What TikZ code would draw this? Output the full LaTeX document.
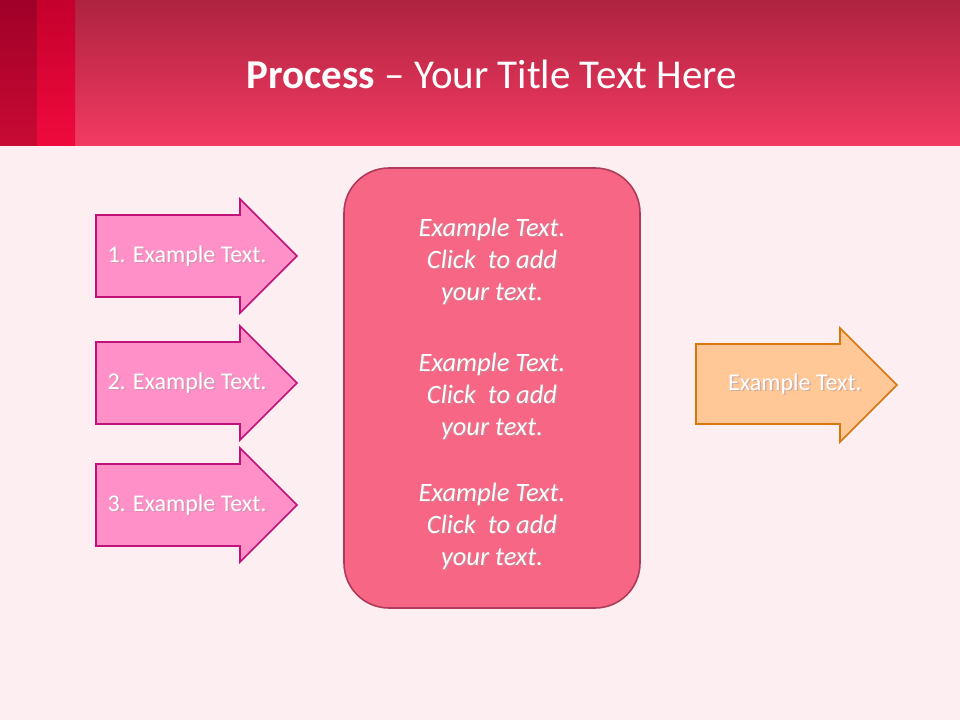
\documentclass[tikz,border=0pt]{standalone}
\usepackage{fontspec}
\setmainfont{Carlito}
\definecolor{bgc}{HTML}{FCEEF1}
\definecolor{hdtop}{HTML}{AE2340}
\definecolor{hdbot}{HTML}{F23A62}
\definecolor{stAt}{HTML}{A00028}
\definecolor{stAb}{HTML}{C80A34}
\definecolor{stBt}{HTML}{C4002C}
\definecolor{stBb}{HTML}{F00A3C}
\definecolor{pinkf}{HTML}{FF90C8}
\definecolor{pinkd}{HTML}{C0137A}
\definecolor{oranf}{HTML}{FFC896}
\definecolor{orand}{HTML}{D9770F}
\definecolor{boxf}{HTML}{F76684}
\definecolor{boxd}{HTML}{B03A5A}
\definecolor{shad}{HTML}{905060}
\tikzset{
  arr/.style={line width=1.6pt, line join=miter},
  lbl/.style={text=white, font=\fontsize{24}{28}\selectfont},
  ctext/.style={text=white, font=\fontsize{26.5}{32}\selectfont\itshape, align=center},
}
\newcommand{\shtext}[4]{%
  \node[#1, text=shad!60, opacity=0.6] at ([xshift=1.5pt,yshift=-1.5pt]#2) {#4};
  \node[#1] (#3) at (#2) {#4};}
\begin{document}
\begin{tikzpicture}[x=1pt,y=-1pt]
\useasboundingbox (0,0) rectangle (960,720);
\fill[bgc] (0,0) rectangle (960,720);
\shade[top color=hdtop, bottom color=hdbot] (0,0) rectangle (960,145);
\shade[top color=stAt, bottom color=stAb] (0,0) rectangle (37,145);
\shade[top color=stBt, bottom color=stBb] (37,0) rectangle (75,145);
\node[text=white, font=\fontsize{41}{48}\selectfont] (title) at (492,74) {\textbf{Process} -- Your Title Text Here};
% left arrows
\foreach \c/\n in {256/1,383/2,505/3}{
  \draw[arr, draw=pinkd, fill=pinkf] (96,\c-41) -- (240,\c-41) -- (240,\c-57) -- (297,\c) -- (240,\c+57) -- (240,\c+41) -- (96,\c+41) -- cycle;
  \shtext{lbl}{187,\c}{a\n}{\n. Example Text.}
}
\draw[arr, draw=orand, fill=oranf] (696,344) -- (840,344) -- (840,328) -- (897,385) -- (840,442) -- (840,424) -- (696,424) -- cycle;
\shtext{lbl}{795,384}{out}{Example Text.}
\draw[line width=1.6pt, draw=boxd, fill=boxf, rounded corners=45pt] (344,168) rectangle (640,608);
\shtext{ctext}{492,261}{t1}{Example Text.\\Click\ \ to add\\your text.}
\shtext{ctext}{492,396}{t2}{Example Text.\\Click\ \ to add\\your text.}
\shtext{ctext}{492,526}{t3}{Example Text.\\Click\ \ to add\\your text.}
\end{tikzpicture}
\end{document}
